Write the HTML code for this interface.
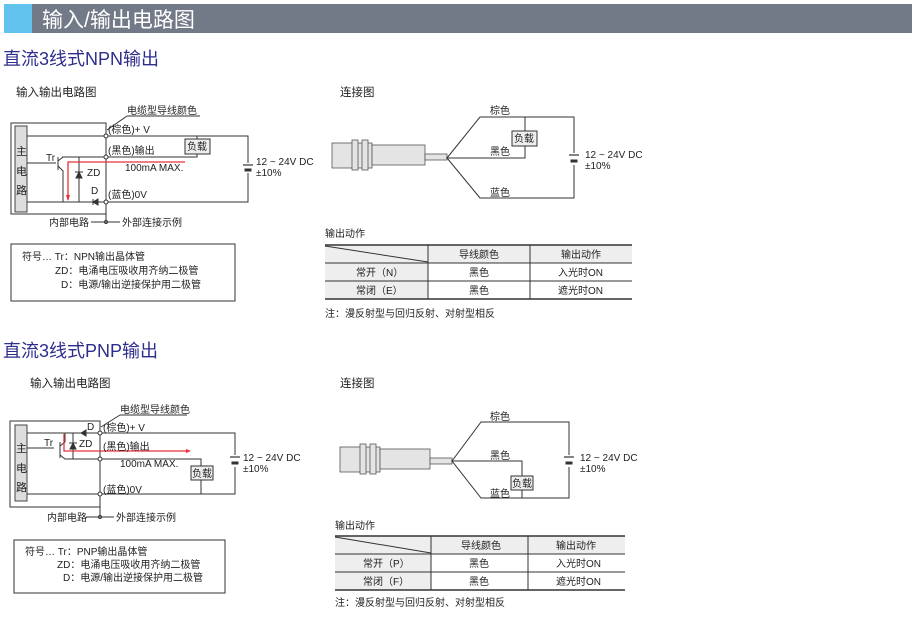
<!DOCTYPE html>
<html><head><meta charset="utf-8"><style>
body{margin:0;background:#fff;}
svg{display:block;font-family:"Liberation Sans","Noto Sans CJK SC",sans-serif;}
text{fill:#222;font-size:10px;}
.w{stroke:#333;stroke-width:1;fill:none;}
</style></head><body>
<svg width="912" height="629" viewBox="0 0 912 629">
<rect x="4" y="4" width="28" height="29" fill="#62c3ef"/>
<rect x="32" y="4" width="880" height="29" fill="#727987"/>
<text x="42" y="27" style="font-size:21px;fill:#fff">输入/输出电路图</text>
<text x="3" y="65" style="font-size:18px;fill:#2d2d8c">直流3线式NPN输出</text>
<text x="3" y="357" style="font-size:18px;fill:#2d2d8c">直流3线式PNP输出</text>

<!-- NPN circuit -->
<text x="16" y="96" style="font-size:11.5px">输入输出电路图</text>
<text x="127" y="114">电缆型导线颜色</text>
<path class="w" d="M127 116H200M107 130L127 116"/>
<rect class="w" x="11" y="123" width="95" height="91"/>
<rect x="15" y="126" width="12" height="86" fill="#ddd" stroke="#444"/>
<text x="16" y="155" style="font-size:11px">主</text><text x="16" y="175" style="font-size:11px">电</text><text x="16" y="194" style="font-size:11px">路</text>
<path class="w" d="M27 136H248V202H27M27 163H56M62 157H197V154M197 139V136M106 214V222M58 157V170M58 161L63 157M58 166L63 171V202M79 157V202M60 202H106"/>
<rect x="185" y="139" width="25" height="15" fill="#eee" stroke="#333"/>
<text x="187" y="150">负载</text>
<path d="M68 200V162H185" stroke="#e8303a" stroke-width="1.3" fill="none"/>
<path d="M66 195L68 201L70 195Z" fill="#e8303a"/>
<path d="M75 172H83M79 172L76 178H82Z" fill="#333" stroke="#333"/>
<text x="87" y="176">ZD</text>
<path d="M93 199V205M93 202L98 199V205Z" fill="#333" stroke="#333"/>
<text x="91" y="194">D</text><text x="46" y="161">Tr</text>
<g fill="#fff" stroke="#333"><circle cx="106" cy="136" r="2"/><circle cx="106" cy="157" r="2"/><circle cx="106" cy="202" r="2"/><circle cx="106" cy="222" r="1.5"/></g>
<rect x="247" y="163" width="3" height="10" fill="#fff"/>
<path d="M243 165H253" stroke="#333" stroke-width="1.2"/><path d="M244.5 170H251.5" stroke="#333" stroke-width="3"/>
<text x="256" y="165">12 ~ 24V DC</text><text x="256" y="176">±10%</text>
<text x="108" y="133">(棕色)+ V</text><text x="108" y="154">(黑色)输出</text><text x="125" y="171">100mA MAX.</text><text x="108" y="198">(蓝色)0V</text>
<text x="49" y="226">内部电路</text><text x="122" y="226">外部连接示例</text>
<path class="w" d="M91 222H120"/>
<rect class="w" x="11" y="244" width="224" height="57"/>
<text x="22" y="260">符号… Tr：NPN输出晶体管</text><text x="55" y="274">ZD：电涌电压吸收用齐纳二极管</text><text x="61" y="288">D：电源/输出逆接保护用二极管</text>

<!-- NPN connection -->
<text x="340" y="96" style="font-size:11.5px">连接图</text>
<g fill="#e4e4e4" stroke="#555" stroke-width="0.8">
<rect x="332" y="143" width="40" height="25"/><rect x="372" y="145" width="53" height="20"/>
<rect x="352" y="140" width="6" height="30"/><rect x="362" y="140" width="6" height="30"/>
<rect x="425" y="154" width="22" height="6"/></g>
<path class="w" d="M447 158L480 117H574V198H480L447 158H525V146M525 131V117"/>
<rect x="512" y="131" width="25" height="15" fill="#eee" stroke="#333"/><text x="514" y="142">负载</text>
<rect x="572" y="153" width="5" height="12" fill="#fff"/>
<path d="M569 155H579" stroke="#333" stroke-width="1.2"/><path d="M570.5 161H577.5" stroke="#333" stroke-width="3"/>
<text x="585" y="158">12 ~ 24V DC</text><text x="585" y="169">±10%</text>
<text x="490" y="114">棕色</text><text x="490" y="155">黑色</text><text x="490" y="196">蓝色</text>
<text x="325" y="237">输出动作</text>
<rect x="325" y="245" width="307" height="18" fill="#eee"/><rect x="325" y="263" width="103" height="36" fill="#eee"/>
<path class="w" d="M325 263H632M325 281H632M428 245V299M530 245V299M325 246L428 262"/>
<path d="M325 245H632M325 299H632" stroke="#333" stroke-width="1.5"/>
<text x="459" y="258">导线颜色</text><text x="561" y="258">输出动作</text>
<text x="356" y="276">常开（N）</text><text x="469" y="276">黑色</text><text x="558" y="276">入光时ON</text>
<text x="356" y="294">常闭（E）</text><text x="469" y="294">黑色</text><text x="558" y="294">遮光时ON</text>
<text x="325" y="317">注：漫反射型与回归反射、对射型相反</text>

<!-- PNP circuit -->
<text x="30" y="387" style="font-size:11.5px">输入输出电路图</text>
<text x="120" y="413">电缆型导线颜色</text>
<path class="w" d="M120 415H187M101 427L120 415"/>
<rect class="w" x="10" y="421" width="90" height="86"/>
<rect x="15" y="425" width="12" height="76" fill="#ddd" stroke="#444"/>
<text x="16" y="452" style="font-size:11px">主</text><text x="16" y="472" style="font-size:11px">电</text><text x="16" y="491" style="font-size:11px">路</text>
<path class="w" d="M27 433H235V494H27M27 448H54M60 442V458M60 446L65 442V433M60 455L65 459H201V466M201 480V494M73 433V459M100 507V517"/>
<rect x="191" y="466" width="22" height="14" fill="#eee" stroke="#333"/><text x="192" y="477">负载</text>
<path d="M64 434V451H188" stroke="#e8303a" stroke-width="1.3" fill="none"/>
<path d="M186 449L191 451L186 453Z" fill="#e8303a"/>
<path d="M69 443H77M73 443L70 449H76Z" fill="#333" stroke="#333"/>
<text x="79" y="447">ZD</text>
<path d="M81 433L86 430V436Z M86 430V436" fill="#333" stroke="#333"/>
<text x="87" y="430">D</text><text x="44" y="446">Tr</text>
<g fill="#fff" stroke="#333"><circle cx="100" cy="433" r="2"/><circle cx="100" cy="459" r="2"/><circle cx="100" cy="494" r="2"/><circle cx="100" cy="517" r="1.5"/></g>
<rect x="233" y="455" width="5" height="12" fill="#fff"/>
<path d="M230 457H240" stroke="#333" stroke-width="1.2"/><path d="M231.5 463H238.5" stroke="#333" stroke-width="3"/>
<text x="243" y="461">12 ~ 24V DC</text><text x="243" y="472">±10%</text>
<text x="103" y="431">(棕色)+ V</text><text x="103" y="450">(黑色)输出</text><text x="120" y="467">100mA MAX.</text><text x="103" y="493">(蓝色)0V</text>
<text x="47" y="521">内部电路</text><text x="116" y="521">外部连接示例</text>
<path class="w" d="M86 517H114"/>
<rect class="w" x="14" y="540" width="211" height="53"/>
<text x="25" y="555">符号… Tr：PNP输出晶体管</text><text x="57" y="568">ZD：电涌电压吸收用齐纳二极管</text><text x="63" y="581">D：电源/输出逆接保护用二极管</text>

<!-- PNP connection -->
<text x="340" y="387" style="font-size:11.5px">连接图</text>
<g fill="#e4e4e4" stroke="#555" stroke-width="0.8">
<rect x="340" y="447" width="40" height="25"/><rect x="380" y="449" width="50" height="20"/>
<rect x="360" y="444" width="6" height="30"/><rect x="370" y="444" width="6" height="30"/>
<rect x="430" y="458" width="22" height="6"/></g>
<path class="w" d="M452 461L481 422H569V498H481L452 461H522V476M522 490V498"/>
<rect x="511" y="476" width="22" height="14" fill="#eee" stroke="#333"/><text x="512" y="487">负载</text>
<rect x="567" y="455" width="5" height="12" fill="#fff"/>
<path d="M564 457H574" stroke="#333" stroke-width="1.2"/><path d="M565.5 463H572.5" stroke="#333" stroke-width="3"/>
<text x="580" y="461">12 ~ 24V DC</text><text x="580" y="472">±10%</text>
<text x="490" y="420">棕色</text><text x="490" y="459">黑色</text><text x="490" y="497">蓝色</text>
<text x="335" y="529">输出动作</text>
<rect x="335" y="536" width="290" height="18" fill="#eee"/><rect x="335" y="554" width="96" height="36" fill="#eee"/>
<path class="w" d="M335 554H625M335 572H625M431 536V590M528 536V590M335 537L431 553"/>
<path d="M335 536H625M335 590H625" stroke="#333" stroke-width="1.5"/>
<text x="461" y="549">导线颜色</text><text x="556" y="549">输出动作</text>
<text x="363" y="567">常开（P）</text><text x="469" y="567">黑色</text><text x="556" y="567">入光时ON</text>
<text x="363" y="585">常闭（F）</text><text x="469" y="585">黑色</text><text x="556" y="585">遮光时ON</text>
<text x="335" y="606">注：漫反射型与回归反射、对射型相反</text>
</svg>
</body></html>
